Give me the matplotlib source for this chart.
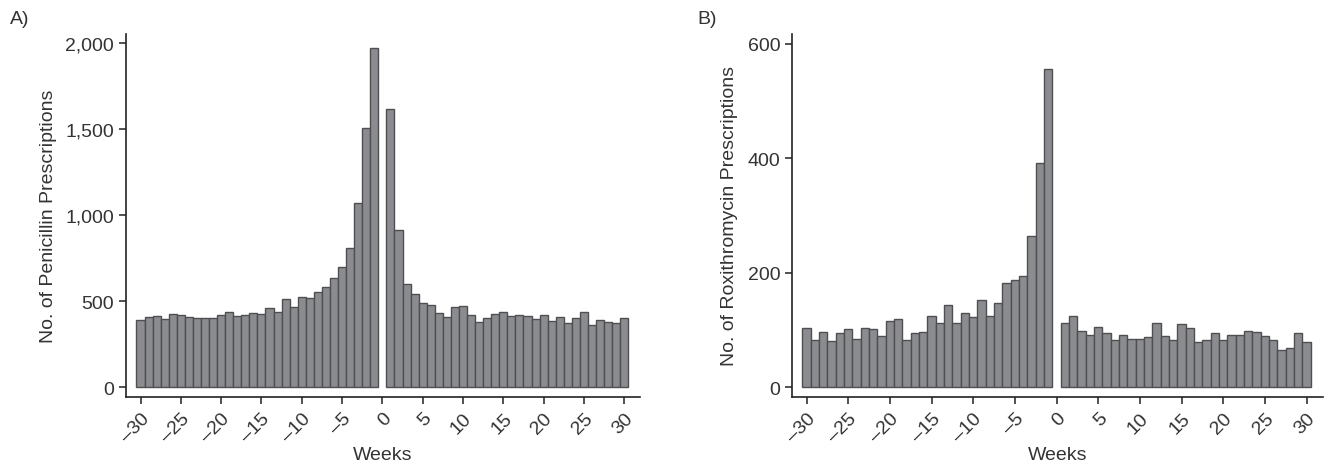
import matplotlib
matplotlib.use("Agg")
import matplotlib.pyplot as plt
from matplotlib.ticker import FuncFormatter
import numpy as np

plt.rcParams['font.family'] = ['Liberation Sans', 'DejaVu Sans']

weeks_before = list(range(-30, 0))
weeks_after = list(range(1, 31))

penicillin_before = [393, 407, 413, 395, 424, 420, 407, 401, 403, 401,
                     419, 436, 413, 422, 430, 426, 459, 438, 512, 465,
                     523, 517, 552, 581, 634, 698, 810, 1072, 1506, 1973]
penicillin_after = [1616, 913, 599, 541, 488, 479, 430, 407, 467, 471,
                    422, 378, 403, 424, 436, 411, 421, 415, 397, 417,
                    386, 407, 372, 401, 436, 364, 388, 380, 372, 401]

roxi_before = [103, 83, 96, 80, 94, 102, 84, 103, 102, 89,
               115, 120, 83, 94, 96, 124, 113, 144, 113, 129,
               122, 152, 124, 147, 182, 187, 194, 265, 391, 556]
roxi_after = [112, 124, 99, 92, 105, 94, 82, 91, 85, 84,
              87, 112, 89, 82, 110, 103, 79, 82, 94, 82,
              92, 91, 98, 96, 89, 82, 65, 68, 94, 79]

xticks = list(range(-30, 31, 5))
ylabels = ["No. of Penicillin Prescriptions", "No. of Roxithromycin Prescriptions"]
panel_labels = ["A)", "B)"]

W, H = 1329, 464
fig = plt.figure(figsize=(W / 100, H / 100), dpi=100)

fill = "#8b8c90"
edge = "#4f4f52"
FS = 14

def add_axes(x0, x1, y0, y1):
    return fig.add_axes([x0 / W, 1 - y1 / H, (x1 - x0) / W, (y1 - y0) / H])

specs = [
    dict(box=(126, 640, 35, 398), before=penicillin_before, after=penicillin_after,
         xlim=(-31.8, 31.95), ylim=(-58, 2055), yticks=[0, 500, 1000, 1500, 2000], pad=6),
    dict(box=(792, 1323, 35, 398), before=roxi_before, after=roxi_after,
         xlim=(-31.76, 31.98), ylim=(-17, 617), yticks=[0, 200, 400, 600], pad=7),
]

for i, s in enumerate(specs):
    ax = add_axes(*s["box"])
    ax.bar(weeks_before, s["before"], width=1.0, color=fill, edgecolor=edge, linewidth=1.0)
    ax.bar(weeks_after, s["after"], width=1.0, color=fill, edgecolor=edge, linewidth=1.0)
    ax.set_xlim(*s["xlim"])
    ax.set_ylim(*s["ylim"])
    ax.set_yticks(s["yticks"])
    ax.yaxis.set_major_formatter(FuncFormatter(lambda v, p: f"{int(v):,}"))
    ax.set_xticks(xticks)
    ax.set_xticklabels([(f"\u2013{abs(t)}" if t < 0 else str(t)) for t in xticks],
                       rotation=45, ha="right", rotation_mode="anchor")
    for sp in ["top", "right"]:
        ax.spines[sp].set_visible(False)
    for sp in ["left", "bottom"]:
        ax.spines[sp].set_linewidth(1.2)
        ax.spines[sp].set_color("#222222")
    ax.tick_params(axis="both", direction="out", length=5, width=1.1, colors="#222222",
                   labelsize=FS, labelcolor="#333333")
    ax.tick_params(axis="x", pad=4)
    ax.set_xlabel("Weeks", fontsize=FS, color="#333333", labelpad=1)
    ax.set_ylabel(ylabels[i], fontsize=FS, color="#333333", labelpad=s["pad"])

fig.text(10 / W, 1 - 20 / H, panel_labels[0], fontsize=FS, color="#333333", va="center", ha="left")
fig.text(697 / W, 1 - 20 / H, panel_labels[1], fontsize=FS, color="#333333", va="center", ha="left")

fig.savefig("out.png", dpi=100, facecolor="white")
